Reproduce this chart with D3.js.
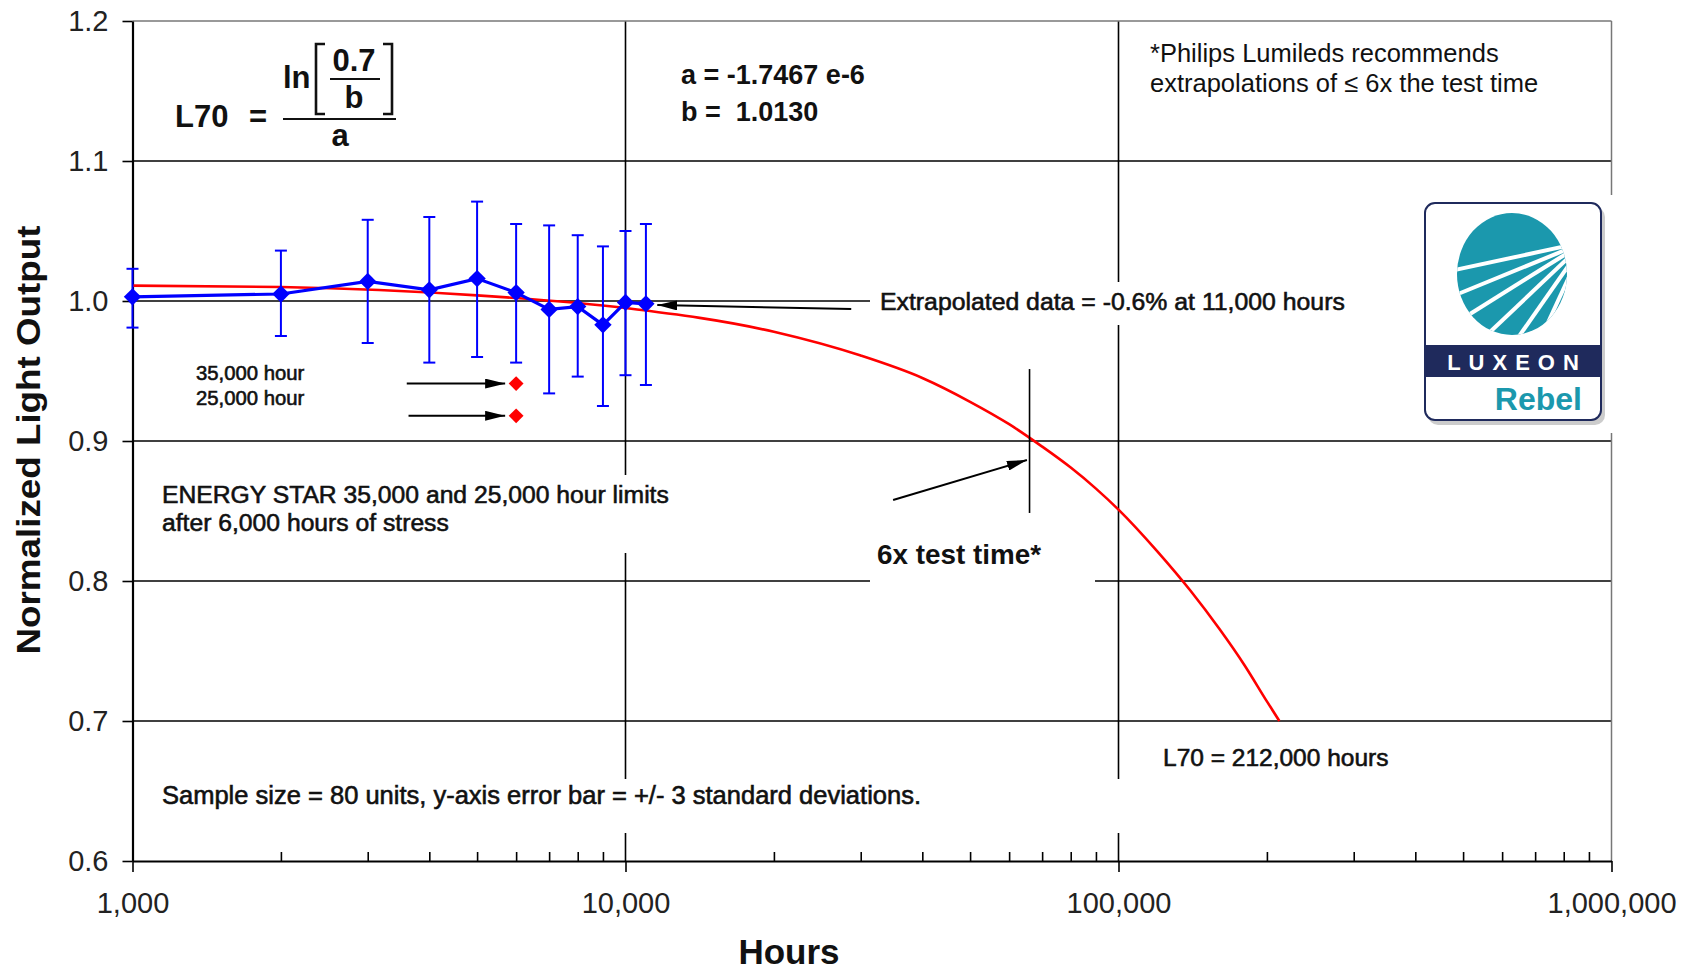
<!DOCTYPE html>
<html>
<head>
<meta charset="utf-8">
<script src="https://cdn.jsdelivr.net/npm/d3@7"></script>
<style>
body { margin: 0; background: #fff; }
svg text { font-family: "Liberation Sans", Arial, sans-serif; }
.med { fill: #111; stroke: #111; stroke-width: 0.6px; }
.bold { fill: #111; font-weight: bold; }
</style>
</head>
<body>
<svg id="chart" width="1696" height="972"></svg>
<script>
// measured data (hours of stress, normalized light output)
var hours       = [1000, 2000, 3000, 4000, 5000, 6000, 7000, 8000, 9000, 10000, 11000];
var lightOutput = [1.003, 1.005, 1.014, 1.008, 1.016, 1.006, 0.994, 0.996, 0.983, 0.999, 0.998];
var errUpper    = [1.023, 1.036, 1.058, 1.060, 1.071, 1.055, 1.054, 1.047, 1.039, 1.050, 1.055];
var errLower    = [0.981, 0.975, 0.970, 0.956, 0.960, 0.956, 0.934, 0.946, 0.925, 0.947, 0.940];

// extrapolated curve
var fitHours  = [1000, 2000, 5000, 10000, 20000, 30000, 40000, 50000, 60000, 70000, 80000, 90000, 100000, 120000, 140000, 160000, 180000, 200000, 212000];
var fitOutput = [1.011, 1.010, 1.004, 0.995, 0.978, 0.961, 0.945, 0.928, 0.912, 0.896, 0.881, 0.866, 0.851, 0.821, 0.793, 0.766, 0.740, 0.714, 0.700];

// ENERGY STAR limits at 6,000 hours
var limitHours  = [6000, 6000];
var limitOutput = [0.941, 0.918];

var yTicks = [0.6, 0.7, 0.8, 0.9, 1.0, 1.1, 1.2];
var yGrid = [0.7, 0.8, 0.9, 1.0, 1.1];
var xTicks = [1000, 10000, 100000, 1000000];
var xTickLabels = ["1,000", "10,000", "100,000", "1,000,000"];
var xGrid = [10000, 100000];

var svg = d3.select("#chart");
var x = d3.scaleLog().domain([1000, 1000000]).range([132.5, 1611.5]);
var y = d3.scaleLinear().domain([0.6, 1.2]).range([861, 21]);

// gridlines
svg.append("g").selectAll("line").data(yGrid).enter().append("line")
   .attr("x1", x(1000)).attr("x2", x(1000000))
   .attr("y1", function(d) { return y(d); }).attr("y2", function(d) { return y(d); })
   .attr("stroke", "#000").attr("stroke-width", 1.6);
svg.append("g").selectAll("line").data(xGrid).enter().append("line")
   .attr("x1", function(d) { return x(d); }).attr("x2", function(d) { return x(d); })
   .attr("y1", y(1.2)).attr("y2", y(0.6))
   .attr("stroke", "#000").attr("stroke-width", 1.6);

// frame top / right
svg.append("line").attr("x1", x(1000)).attr("x2", x(1000000)).attr("y1", y(1.2)).attr("y2", y(1.2))
   .attr("stroke", "#777").attr("stroke-width", 1.5);
svg.append("line").attr("x1", x(1000000)).attr("x2", x(1000000)).attr("y1", y(1.2)).attr("y2", y(0.6))
   .attr("stroke", "#777").attr("stroke-width", 1.5);

// white text boxes that hide the grid
var boxes = [[150, 475, 535, 78], [140, 779, 1450, 54], [870, 282, 545, 43], [870, 522, 225, 70]];
svg.append("g").selectAll("rect").data(boxes).enter().append("rect")
   .attr("x", function(d) { return d[0]; }).attr("y", function(d) { return d[1]; })
   .attr("width", function(d) { return d[2]; }).attr("height", function(d) { return d[3]; })
   .attr("fill", "#fff");

// axes
var yAxis = svg.append("g").attr("transform", "translate(" + x(1000) + ",0)")
   .call(d3.axisLeft(y).tickValues(yTicks).tickFormat(d3.format(".1f")).tickSize(10).tickSizeOuter(0).tickPadding(14));
var xAxis = svg.append("g").attr("transform", "translate(0," + y(0.6) + ")")
   .call(d3.axisBottom(x).tickValues(xTicks).tickFormat(function(d, i) { return xTickLabels[i]; })
   .tickSize(11).tickSizeOuter(0).tickPadding(20));
var minor = [];
xTicks.slice(0, 3).forEach(function(d) { for (var k = 2; k < 10; k++) minor.push(d * k); });
var minorAxis = svg.append("g").attr("transform", "translate(0," + y(0.6) + ")")
   .call(d3.axisBottom(x).tickValues(minor).tickSize(-9).tickFormat(""));
minorAxis.select(".domain").remove();
[yAxis, xAxis, minorAxis].forEach(function(a) {
    a.selectAll("line").attr("stroke", "#000").attr("stroke-width", 1.6);
    a.select(".domain").attr("stroke", "#000").attr("stroke-width", 2.2);
    a.selectAll("text").attr("font-family", "Liberation Sans, Arial, sans-serif")
     .attr("font-size", "29px").attr("fill", "#222");
});

// axis titles
svg.append("text").attr("class", "bold")
   .attr("transform", "translate(40,440) rotate(-90)")
   .attr("text-anchor", "middle").attr("font-size", "33px")
   .attr("textLength", 429).attr("lengthAdjust", "spacingAndGlyphs")
   .text("Normalized Light Output");
svg.append("text").attr("class", "bold")
   .attr("x", 789).attr("y", 964).attr("text-anchor", "middle").attr("font-size", "35px")
   .text("Hours");

// arrow marker
svg.append("defs").append("marker")
   .attr("id", "arrow").attr("markerUnits", "userSpaceOnUse")
   .attr("viewBox", "0 0 20 10").attr("refX", 20).attr("refY", 5)
   .attr("markerWidth", 20).attr("markerHeight", 10).attr("orient", "auto")
   .append("path").attr("d", "M0,0L20,5L0,10z").attr("fill", "#000");

// extrapolated curve
var line = d3.line().x(function(d) { return x(d[0]); }).y(function(d) { return y(d[1]); });
svg.append("path").datum(d3.zip(fitHours, fitOutput))
   .attr("d", line.curve(d3.curveMonotoneX)).attr("fill", "none")
   .attr("stroke", "#ff0000").attr("stroke-width", 2.6);

// error bars
var eb = svg.append("g").attr("stroke", "#0000ff").attr("stroke-width", 2);
hours.forEach(function(h, i) {
    eb.append("line").attr("x1", x(h)).attr("x2", x(h)).attr("y1", y(errLower[i])).attr("y2", y(errUpper[i]));
    eb.append("line").attr("x1", x(h) - 6).attr("x2", x(h) + 6).attr("y1", y(errLower[i])).attr("y2", y(errLower[i]));
    eb.append("line").attr("x1", x(h) - 6).attr("x2", x(h) + 6).attr("y1", y(errUpper[i])).attr("y2", y(errUpper[i]));
});

// measured series
svg.append("path").datum(d3.zip(hours, lightOutput))
   .attr("d", d3.line().x(function(d) { return x(d[0]); }).y(function(d) { return y(d[1]); }))
   .attr("fill", "none").attr("stroke", "#0000ff").attr("stroke-width", 3.2);
svg.append("g").selectAll("path").data(d3.zip(hours, lightOutput)).enter().append("path")
   .attr("d", d3.symbol().type(d3.symbolSquare).size(150))
   .attr("transform", function(d) { return "translate(" + x(d[0]) + "," + y(d[1]) + ") rotate(45)"; })
   .attr("fill", "#0000ff");

// ENERGY STAR limit points
svg.append("g").selectAll("path").data(d3.zip(limitHours, limitOutput)).enter().append("path")
   .attr("d", d3.symbol().type(d3.symbolSquare).size(110))
   .attr("transform", function(d) { return "translate(" + x(d[0]) + "," + y(d[1]) + ") rotate(45)"; })
   .attr("fill", "#ff0000");

// annotation arrows [fromHours, fromY, toHours, toY]
var arrows = [
    [28700, 0.9943, 11600, 0.9971],
    [34900, 0.8579, 65200, 0.8864],
    [3600, 0.941, 5700, 0.941],
    [3630, 0.918, 5700, 0.918]
];
svg.append("g").selectAll("line").data(arrows).enter().append("line")
   .attr("x1", function(d) { return x(d[0]); }).attr("y1", function(d) { return y(d[1]); })
   .attr("x2", function(d) { return x(d[2]); }).attr("y2", function(d) { return y(d[3]); })
   .attr("stroke", "#000").attr("stroke-width", 2).attr("marker-end", "url(#arrow)");
// 6x test time marker
svg.append("line").attr("x1", x(66000)).attr("x2", x(66000)).attr("y1", y(0.9514)).attr("y2", y(0.8486))
   .attr("stroke", "#000").attr("stroke-width", 1.6);

// annotation texts
var notes = [
    ["a = -1.7467 e-6", 681, 84, 27, "bold"],
    ["b =\u00a0\u00a01.0130", 681, 121, 27, "bold"],
    ["*Philips Lumileds recommends", 1150, 62, 25.5, "reg"],
    ["extrapolations of \u2264 6x the test time", 1150, 92, 25.5, "reg"],
    ["Extrapolated data = -0.6% at 11,000 hours", 880, 310, 24.8, "med"],
    ["35,000 hour", 196, 380, 20.3, "med"],
    ["25,000 hour", 196, 405, 20.3, "med"],
    ["ENERGY STAR 35,000 and 25,000 hour limits", 162, 503, 24.7, "med"],
    ["after 6,000 hours of stress", 162, 531, 24.7, "med"],
    ["L70 = 212,000 hours", 1163, 766, 24.5, "med"],
    ["Sample size = 80 units, y-axis error bar = +/- 3 standard deviations.", 162, 804, 25.5, "med"]
];
svg.append("g").selectAll("text").data(notes).enter().append("text")
   .attr("x", function(d) { return d[1]; }).attr("y", function(d) { return d[2]; })
   .attr("font-size", function(d) { return d[3] + "px"; })
   .attr("class", function(d) { return d[4] === "bold" ? "bold" : (d[4] === "med" ? "med" : ""); })
   .attr("fill", "#111")
   .text(function(d) { return d[0]; });
svg.append("text").attr("class", "bold").attr("x", 877).attr("y", 564)
   .attr("font-size", "27px").attr("textLength", 164).attr("lengthAdjust", "spacingAndGlyphs")
   .text("6x test time*");

// L70 formula
var f = svg.append("g").attr("class", "bold").attr("font-size", "31px");
f.append("text").attr("x", 175).attr("y", 127).text("L70");
f.append("text").attr("x", 258).attr("y", 127).attr("text-anchor", "middle").text("=");
f.append("text").attr("x", 283).attr("y", 88).text("ln");
f.append("text").attr("x", 354).attr("y", 71).attr("text-anchor", "middle").text("0.7");
f.append("text").attr("x", 354).attr("y", 108).attr("text-anchor", "middle").text("b");
f.append("text").attr("x", 340).attr("y", 146).attr("text-anchor", "middle").text("a");
var fl = svg.append("g").attr("stroke", "#111").attr("fill", "none");
fl.append("line").attr("x1", 283).attr("x2", 396).attr("y1", 119).attr("y2", 119).attr("stroke-width", 2.2);
fl.append("line").attr("x1", 330).attr("x2", 380).attr("y1", 79).attr("y2", 79).attr("stroke-width", 2.2);
fl.append("path").attr("d", "M325,44H316V114H325").attr("stroke-width", 2.6);
fl.append("path").attr("d", "M383,44H392V114H383").attr("stroke-width", 2.6);

// LUXEON Rebel logo
var logo = svg.append("g");
logo.append("rect").attr("x", 1412).attr("y", 195).attr("width", 202).attr("height", 238).attr("fill", "#fff");
logo.append("rect").attr("x", 1428).attr("y", 207).attr("width", 177).attr("height", 218).attr("rx", 10)
    .attr("fill", "#9a9a9a").attr("opacity", 0.5);
logo.append("rect").attr("x", 1425).attr("y", 203).attr("width", 176).attr("height", 217).attr("rx", 10)
    .attr("fill", "#fff").attr("stroke", "#1f2a5c").attr("stroke-width", 2);
logo.append("clipPath").attr("id", "globe").append("ellipse")
    .attr("cx", 1512).attr("cy", 274).attr("rx", 55).attr("ry", 61);
logo.append("ellipse").attr("cx", 1512).attr("cy", 274).attr("rx", 55).attr("ry", 61).attr("fill", "#1b98ad");
var rays = [[1455, 270], [1458, 294], [1470, 314], [1490, 332], [1515, 342], [1540, 340], [1560, 327]];
logo.append("g").attr("clip-path", "url(#globe)").selectAll("line").data(rays).enter().append("line")
    .attr("x1", 1585).attr("y1", 242)
    .attr("x2", function(d) { return d[0]; }).attr("y2", function(d) { return d[1]; })
    .attr("stroke", "#fff").attr("stroke-width", 4);
logo.append("rect").attr("x", 1426).attr("y", 345).attr("width", 174).attr("height", 32).attr("fill", "#1f2a5c");
logo.append("text").attr("x", 1517).attr("y", 370).attr("text-anchor", "middle")
    .attr("font-size", "22px").attr("font-weight", "bold").attr("letter-spacing", "8px")
    .attr("fill", "#fff").text("LUXEON");
logo.append("text").attr("x", 1582).attr("y", 410).attr("text-anchor", "end")
    .attr("font-size", "32px").attr("font-weight", "bold").attr("fill", "#1b98ad").text("Rebel");
</script>
</body>
</html>
